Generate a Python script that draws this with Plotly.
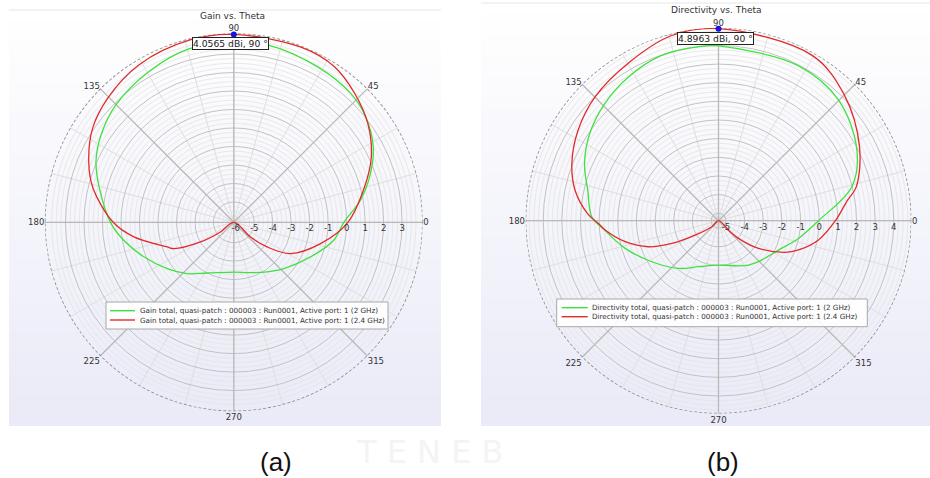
import numpy as np
import plotly.graph_objects as go

# ---------------- data ----------------
# (a) Gain vs. Theta  [dBi]
G_RED_THETA = [315, 318.7, 323.5, 331.1, 346.2, 0, 15.2, 25.5, 36.5, 46.9, 57, 69, 90,
               103.5, 121, 135.4, 146.2, 157.2, 166.3, 180, 188.3, 200.3, 203.7, 210.5, 216, 222]
G_RED_DB = [-6.1, -4.90, -3.86, -2.60, -1.27, 0.07, 1.23, 2.14, 2.91, 3.46, 3.92, 4.04, 4.0565,
            4.04, 3.84, 3.47, 3.08, 2.41, 1.74, 0.42, -0.64, -2.26, -2.56, -4.01, -5.21, -6.1]
G_GREEN_THETA = [0, 10, 19.7, 28.5, 38.7, 47.9, 61.8, 79, 90, 104.3, 119.2, 135, 146.5, 156.1,
                 165.7, 180.5, 189.3, 201, 214.8, 227.7, 242.2, 270, 288.3, 303.9, 317.2, 335.7, 349.8, 360]
G_GREEN_DB = [-0.15, 0.86, 1.75, 2.48, 3.03, 3.31, 3.45, 3.66, 3.62, 3.59, 3.26, 2.90, 2.50, 2.05,
              1.40, 0.54, -0.07, -0.89, -1.71, -2.35, -3.0, -3.41, -3.23, -2.87, -2.41, -1.55, -0.61, -0.15]

# (b) Directivity vs. Theta  [dBi]
D_RED_THETA = [315, 317, 318.5, 325.3, 334.6, 339.9, 349.1, 0, 9, 13.7, 27.7, 45, 60.6, 90,
               104.4, 118.6, 134.8, 147.4, 158.9, 168.2, 177.1, 181.7, 184.7, 192.7, 200.4, 205.9, 211.6, 222, 225]
D_RED_DB = [-5.4, -4.67, -3.97, -2.79, -1.44, -0.83, 0.06, 0.87, 1.6, 2.2, 3.14, 4.14, 4.79, 4.8963,
            4.84, 4.37, 3.98, 3.55, 3.03, 2.45, 1.61, 1.0, 0.70, -0.27, -1.39, -2.62, -3.93, -4.92, -5.4]
D_GREEN_THETA = [0, 14.3, 27, 45, 63, 90, 95.7, 109.2, 122.3, 134.3, 146.1, 157.1, 167.1, 178.2,
                 184.7, 196.5, 211.6, 230, 246.5, 270, 293.8, 304, 314.3, 333.9, 347.5, 360]
D_GREEN_DB = [-0.04, 1.98, 2.93, 3.72, 3.95, 3.97, 4.0, 3.97, 3.69, 3.35, 2.93, 2.40, 1.79, 1.40,
              0.73, -0.18, -1.20, -2.06, -2.71, -3.02, -2.75, -2.53, -2.33, -1.82, -1.01, -0.04]

PEAK_A = 4.0565
PEAK_B = 4.8963
PEAK_THETA = 90

RANGE_A = [-6.1, 4.12]
RANGE_B = [-5.4, 4.95]
TICKS_A = [-6, -5, -4, -3, -2, -1, 0, 1, 2, 3]
TICKS_B = [-5, -4, -3, -2, -1, 0, 1, 2, 3, 4]
ANG_TICKS = list(range(0, 360, 15))

NAMES_A = ["Gain total, quasi-patch : 000003 : Run0001, Active port: 1 (2 GHz)",
           "Gain total, quasi-patch : 000003 : Run0001, Active port: 1 (2.4 GHz)"]
NAMES_B = ["Directivity total, quasi-patch : 000003 : Run0001, Active port: 1 (2 GHz)",
           "Directivity total, quasi-patch : 000003 : Run0001, Active port: 1 (2.4 GHz)"]

# ---------------- styling ----------------
W, H = 930, 478
FONT = "DejaVu Sans"
GREEN = "#3ee23e"
RED = "#e22a2a"
MAJ_RING = "#c2c2c2"
MIN_RING = "#e3e3e3"
MAJ_SPOKE = "#b9b9b9"
MIN_SPOKE = "#dedede"


def px_x(v):
    return v / W


def px_y(v):
    return 1 - v / H


fig = go.Figure()


def add_grid(sub, rng):
    rmin, rmax = rng
    th = list(np.arange(0, 361, 2.0))
    rr, tt = [], []
    k = np.ceil(rmin / 0.25) * 0.25
    while k < rmax - 0.05:
        if abs(k - round(k)) > 1e-6:
            rr += [k] * len(th) + [None]
            tt += th + [None]
        k += 0.25
    fig.add_trace(go.Scatterpolar(r=rr, theta=tt, mode="lines", subplot=sub,
                                  line=dict(color=MIN_RING, width=0.8), hoverinfo="skip",
                                  showlegend=False))
    rr, tt = [], []
    for a in range(0, 360, 45):
        rr += [rmin, rmax, None]
        tt += [a, a, None]
    fig.add_trace(go.Scatterpolar(r=rr, theta=tt, mode="lines", subplot=sub,
                                  line=dict(color=MAJ_SPOKE, width=1.3), hoverinfo="skip",
                                  showlegend=False))
    fig.add_trace(go.Scatterpolar(r=[rmax] * len(th), theta=th, mode="lines", subplot=sub,
                                  line=dict(color="#8e8e8e", width=1.6, dash="3px,2px"),
                                  hoverinfo="skip", showlegend=False, cliponaxis=False))


add_grid("polar", RANGE_A)
add_grid("polar2", RANGE_B)

LINE = dict(width=1.3, shape="spline", smoothing=1.0)
fig.add_trace(go.Scatterpolar(r=G_GREEN_DB, theta=G_GREEN_THETA, mode="lines", subplot="polar",
                              name=NAMES_A[0], line=dict(color=GREEN, **LINE), showlegend=False))
fig.add_trace(go.Scatterpolar(r=G_RED_DB, theta=G_RED_THETA, mode="lines", subplot="polar",
                              name=NAMES_A[1], line=dict(color=RED, **LINE), showlegend=False))
fig.add_trace(go.Scatterpolar(r=D_GREEN_DB, theta=D_GREEN_THETA, mode="lines", subplot="polar2",
                              name=NAMES_B[0], line=dict(color=GREEN, **LINE), showlegend=False))
fig.add_trace(go.Scatterpolar(r=D_RED_DB, theta=D_RED_THETA, mode="lines", subplot="polar2",
                              name=NAMES_B[1], line=dict(color=RED, **LINE), showlegend=False))
fig.add_trace(go.Scatterpolar(r=[PEAK_A], theta=[PEAK_THETA], mode="markers", subplot="polar",
                              marker=dict(color="#1515e0", size=6), showlegend=False, cliponaxis=False))
fig.add_trace(go.Scatterpolar(r=[PEAK_B], theta=[PEAK_THETA], mode="markers", subplot="polar2",
                              marker=dict(color="#1515e0", size=6), showlegend=False, cliponaxis=False))


def polar_layout(domx, domy, rng, ticks):
    return dict(
        domain=dict(x=domx, y=domy),
        bgcolor="rgba(0,0,0,0)",
        angularaxis=dict(
            tickvals=ANG_TICKS,
            ticktext=[str(a) if a % 45 == 0 else "" for a in ANG_TICKS],
            rotation=0, direction="counterclockwise",
            showline=False, ticks="", gridcolor=MIN_SPOKE, gridwidth=0.8,
            tickfont=dict(family=FONT, size=8.5, color="#333"),
        ),
        radialaxis=dict(
            range=rng, tickvals=ticks, ticktext=[str(t) for t in ticks],
            angle=0, tickangle=0, side="clockwise",
            showline=False, ticks="", gridcolor=MAJ_RING, gridwidth=1,
            tickfont=dict(family=FONT, size=8.5, color="#333"),
        ),
    )


polarA = polar_layout([px_x(44.8), px_x(422.8)], [px_y(411.3), px_y(33.3)], RANGE_A, TICKS_A)
polarB = polar_layout([px_x(525.5), px_x(911.5)], [px_y(413.7), px_y(27.7)], RANGE_B, TICKS_B)

shapes = []
TOP = np.array([255, 255, 255])
BOT = np.array([234, 234, 248])
for (x0, x1, y0, y1) in [(9, 441, 10, 426), (481, 930, 3, 426)]:
    n = 40
    for i in range(n):
        c = TOP + (BOT - TOP) * (i + 0.5) / n
        ya = y0 + (y1 - y0) * i / n
        yb = y0 + (y1 - y0) * (i + 1) / n + 0.6
        shapes.append(dict(type="rect", xref="paper", yref="paper", layer="below",
                           x0=px_x(x0), x1=px_x(x1), y0=px_y(min(yb, y1)), y1=px_y(ya),
                           line=dict(width=0),
                           fillcolor="rgb(%d,%d,%d)" % tuple(int(round(v)) for v in c)))
    shapes.append(dict(type="line", xref="paper", yref="paper", layer="below",
                       x0=px_x(x0), x1=px_x(x1), y0=px_y(y0), y1=px_y(y0),
                       line=dict(color="#e6e6e6", width=1)))


def ann(text, x, y, size, color="#333", family=FONT, xanchor="center", **kw):
    return dict(text=text, x=px_x(x), y=px_y(y), xref="paper", yref="paper",
                xanchor=xanchor, yanchor="middle", showarrow=False,
                font=dict(family=family, size=size, color=color), **kw)


annotations = [
    ann("T E N E B", 430, 452, 32, color="#f4f4f4"),
    ann("Gain vs. Theta", 232, 16, 9),
    ann("Directivity vs. Theta", 716.7, 10, 9),
    ann("4.0565 dBi, 90 °", 230, 43.5, 9.2, color="#222", bgcolor="white",
        bordercolor="#222", borderwidth=1, borderpad=0),
    ann("4.8963 dBi, 90 °", 715, 38.5, 9.2, color="#222", bgcolor="white",
        bordercolor="#222", borderwidth=1, borderpad=0),
    ann("(a)", 276, 462, 26, color="#111", family="Liberation Sans"),
    ann("(b)", 723, 462, 26, color="#111", family="Liberation Sans"),
]

for (bx0, by0, bx1, by1, lx0, lx1, ly, tx, names) in [
        (106, 302, 388, 329, 110, 135, [310.7, 320.0], 137.5, NAMES_A),
        (556.7, 299, 867.3, 326.7, 561.7, 587.7, [307.7, 316.7], 590.3, NAMES_B)]:
    shapes.append(dict(type="rect", xref="paper", yref="paper", layer="above",
                       x0=px_x(bx0), x1=px_x(bx1), y0=px_y(by1), y1=px_y(by0),
                       fillcolor="rgba(255,255,255,0.88)", line=dict(color="#a8a8a8", width=1)))
    for yy, col, name in zip(ly, [GREEN, RED], names):
        shapes.append(dict(type="line", xref="paper", yref="paper", layer="above",
                           x0=px_x(lx0), x1=px_x(lx1), y0=px_y(yy), y1=px_y(yy),
                           line=dict(color=col, width=1.4)))
        annotations.append(ann(name, tx, yy, 7.2, xanchor="left"))

fig.update_layout(
    width=W, height=H, autosize=False,
    margin=dict(l=0, r=0, t=0, b=0),
    paper_bgcolor="white", plot_bgcolor="white",
    polar=polarA, polar2=polarB,
    shapes=shapes, annotations=annotations,
    showlegend=False,
)

fig.write_html("out.html", config={"displayModeBar": False},
               post_script="document.body.style.margin='0px';")
